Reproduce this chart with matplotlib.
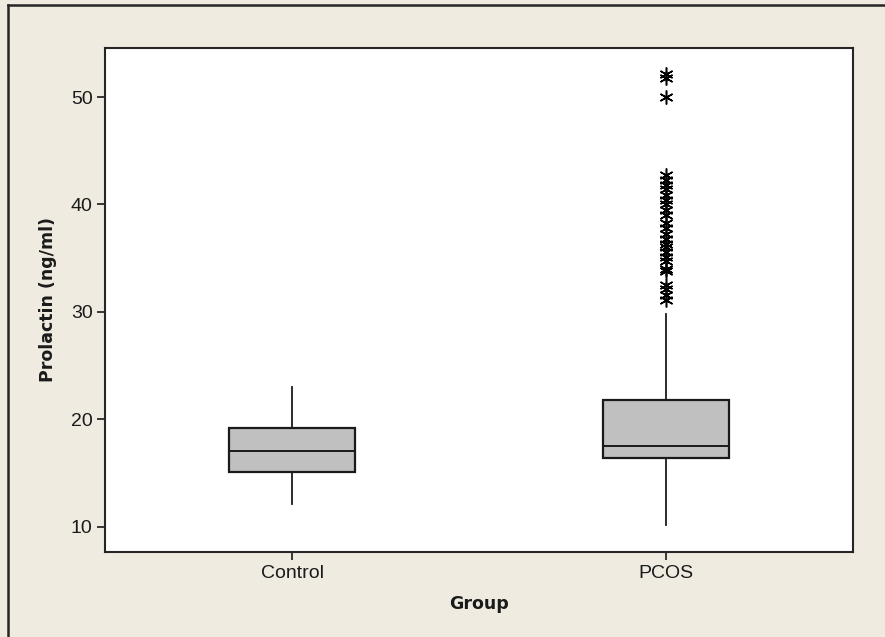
import matplotlib
matplotlib.use("Agg")
import matplotlib.pyplot as plt
from matplotlib.lines import Line2D

# ---- data ----
groups = ["Control", "PCOS"]
whisker_low = [12.1, 10.2]
q1 = [15.1, 16.45]
median = [17.1, 17.55]
q3 = [19.25, 21.8]
whisker_high = [23.05, 29.8]
control_outliers = []
pcos_outliers = [52.1, 51.8, 50.0, 42.7, 42.3, 41.8, 41.4, 40.9, 40.4, 40.0,
                 39.5, 39.0, 38.3, 37.8, 37.3, 36.8, 36.3, 36.0, 35.6, 35.1,
                 34.7, 34.0, 33.8, 32.5, 32.1, 31.6, 31.1]
outliers = [control_outliers, pcos_outliers]
yticks = [10, 20, 30, 40, 50]

BG = "#EFEBE1"
plt.rcParams["font.family"] = ["Liberation Sans", "DejaVu Sans"]

fig = plt.figure(figsize=(8.85, 6.37), dpi=100, facecolor=BG)
ax = fig.add_axes([105/885, 1-552/637, 748/885, 504/637])
ax.set_facecolor("white")

stats = []
for i, g in enumerate(groups):
    stats.append(dict(label=g, whislo=whisker_low[i], q1=q1[i], med=median[i],
                      q3=q3[i], whishi=whisker_high[i], fliers=outliers[i]))

ax.bxp(stats, positions=[1, 2], widths=0.336, patch_artist=True,
       showcaps=False,
       boxprops=dict(facecolor="#C0C0C0", edgecolor="#1a1a1a", linewidth=1.6),
       medianprops=dict(color="#1a1a1a", linewidth=1.4),
       whiskerprops=dict(color="#1a1a1a", linewidth=1.3),
       flierprops=dict(marker=(6, 2, 0), markersize=10, markeredgecolor="black",
                       markerfacecolor="black", markeredgewidth=1.1, linestyle="none"))

ax.set_xlim(0.5, 2.5)
ax.set_ylim(7.67, 54.56)
ax.set_yticks(yticks)
ax.set_xticks([1, 2])
ax.set_xticklabels(groups)
ax.tick_params(axis="both", direction="out", length=6, width=1.2, color="#1a1a1a",
               labelsize=14, labelcolor="#1a1a1a", pad=3)
for s in ax.spines.values():
    s.set_linewidth(1.5)
    s.set_color("#262626")

ax.set_xlabel("Group", fontsize=12.5, fontweight="bold", labelpad=10,
              color="#1a1a1a", family="DejaVu Sans")
ax.set_ylabel("Prolactin (ng/ml)", fontsize=12.5, fontweight="bold", labelpad=10,
              color="#1a1a1a", family="DejaVu Sans")

# outer frame (left and top edges)
fig.add_artist(Line2D([8/885, 8/885], [0, 1-5/637], transform=fig.transFigure,
                      color="#262626", linewidth=1.8))
fig.add_artist(Line2D([8/885, 1], [1-5/637, 1-5/637], transform=fig.transFigure,
                      color="#262626", linewidth=1.8))

fig.savefig("out.png", dpi=100, facecolor=BG)
